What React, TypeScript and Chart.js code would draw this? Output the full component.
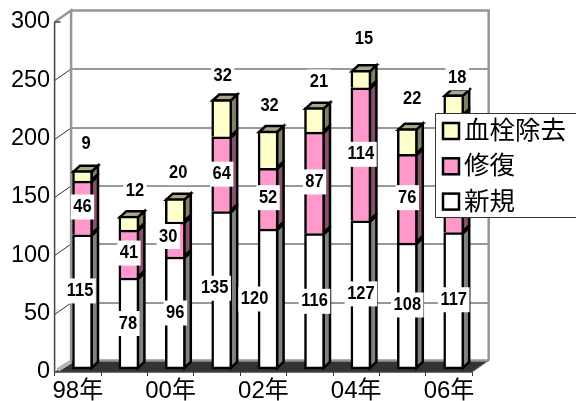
import React, { useEffect, useRef } from "react";
import { Chart, registerables } from "chart.js";

Chart.register(...registerables);

const categories = ["98年", "99年", "00年", "01年", "02年", "03年", "04年", "05年", "06年"];
const newCases = [115, 78, 96, 135, 120, 116, 127, 108, 117];
const repair = [46, 41, 30, 64, 52, 87, 114, 76, 100];
const thrombectomy = [9, 12, 20, 32, 32, 21, 15, 22, 18];
const seriesNames = ["新規", "修復", "血栓除去"];

const FONT = '"Liberation Sans", Arial, "Noto Sans CJK JP", sans-serif';
const wallDepth = { x: 16.5, y: -11.5 };
const barShift = { x: 4.7, y: -3 };
const barDepth = { x: 6.5, y: -6 };
const sideColors = ["#808080", "#84506a", "#808064"];
const topColors = ["#a0a0a0", "#a06a85", "#a8a888"];

// label nudges from the default spot, by series then by bar
const nudges: [number, number][][] = [
  [[-2.5, -11], [-1, 0], [0, 0], [-7, -2], [-13.5, 0], [0, 0], [0, -1], [0, -1], [0, -1]],
  [[0, -1], [0, -1], [-7, -3], [0, 0], [0, -1], [0, -1], [0, 0], [0, -1], [0, 0]],
  [[3.5, -27], [6, -25.5], [3, -26], [1, -23.5], [1.5, -25], [4.5, -25.7], [3, -31], [5, -29.7], [3.5, -17]],
];

const poly = (ctx: CanvasRenderingContext2D, pts: number[][]) => {
  ctx.beginPath();
  pts.forEach(([x, y], i) => (i ? ctx.lineTo(x, y) : ctx.moveTo(x, y)));
  ctx.closePath();
};

const wallsPlugin = {
  id: "walls",
  beforeDatasetsDraw(chart: any) {
    const { ctx, scales } = chart;
    const xs = scales.x;
    const ys = scales.y;
    const L = xs.left;
    const R = xs.right;
    const B = ys.getPixelForValue(0);
    const T = ys.getPixelForValue(300);
    const d = wallDepth;
    ctx.save();
    // floor
    ctx.fillStyle = "#333333";
    poly(ctx, [[L, B], [L + d.x, B + d.y], [R + d.x, B + d.y], [R, B]]);
    ctx.fill();
    // gridlines
    ctx.strokeStyle = "#333333";
    ctx.lineWidth = 1;
    ys.ticks.forEach((t: any) => {
      if (t.value === 0 || t.value === 300) return;
      const y = Math.round(ys.getPixelForValue(t.value)) + 0.5;
      ctx.beginPath();
      ctx.moveTo(L, y);
      ctx.lineTo(L + d.x, y + d.y);
      ctx.lineTo(R + d.x, y + d.y);
      ctx.stroke();
    });
    // light edge of side wall at floor
    ctx.strokeStyle = "#b4b4b4";
    ctx.lineWidth = 4;
    ctx.beginPath();
    ctx.moveTo(L + 3, B - 2);
    ctx.lineTo(L + d.x, B + d.y + 1);
    ctx.stroke();
    // gray wall frame
    ctx.strokeStyle = "#969696";
    ctx.lineWidth = 2.5;
    ctx.beginPath();
    ctx.moveTo(L, T);
    ctx.lineTo(L + d.x, T + d.y);
    ctx.lineTo(L + d.x, B + d.y);
    ctx.moveTo(L + d.x, T + d.y);
    ctx.lineTo(R + d.x, T + d.y);
    ctx.lineTo(R + d.x, B + d.y);
    ctx.moveTo(L + d.x, B + d.y);
    ctx.lineTo(R + d.x, B + d.y);
    ctx.stroke();
    ctx.beginPath();
    ctx.moveTo(R + d.x, B + d.y);
    ctx.lineTo(R, B);
    ctx.strokeStyle = "#777777";
    ctx.lineWidth = 1;
    ctx.stroke();
    // front axis
    ctx.strokeStyle = "#444444";
    ctx.lineWidth = 1.5;
    ctx.beginPath();
    ctx.moveTo(L, T);
    ctx.lineTo(L, B);
    ctx.moveTo(L, T);
    ctx.lineTo(L + 6, T);
    ctx.moveTo(L, B);
    ctx.lineTo(R, B);
    ctx.stroke();
    // bar sides and caps
    ctx.translate(barShift.x, barShift.y);
    ctx.lineJoin = "miter";
    const n = chart.data.datasets.length;
    for (let s = 0; s < n; s++) {
      chart.getDatasetMeta(s).data.forEach((el: any) => {
        const r = el.x + el.width / 2 - 1;
        const l = el.x - el.width / 2 + 1;
        const top = el.y + 1;
        const base = el.base - 1;
        poly(ctx, [[r, top], [r + barDepth.x, top + barDepth.y], [r + barDepth.x, base + barDepth.y], [r, base]]);
        ctx.fillStyle = sideColors[s];
        ctx.fill();
        ctx.strokeStyle = "#000";
        ctx.lineWidth = 2.5;
        ctx.stroke();
        if (s === n - 1) {
          poly(ctx, [[l, top], [l + barDepth.x, top + barDepth.y], [r + barDepth.x, top + barDepth.y], [r, top]]);
          ctx.fillStyle = topColors[s];
          ctx.fill();
          ctx.stroke();
        }
      });
    }
    ctx.restore();
    ctx.save();
    ctx.translate(barShift.x, barShift.y);
  },
  afterDatasetsDraw(chart: any) {
    const { ctx } = chart;
    ctx.restore();
    // value labels
    ctx.save();
    ctx.translate(barShift.x, barShift.y);
    ctx.font = `bold 16.5px ${FONT}`;
    ctx.textAlign = "center";
    ctx.textBaseline = "middle";
    chart.data.datasets.forEach((ds: any, s: number) => {
      chart.getDatasetMeta(s).data.forEach((el: any, i: number) => {
        const [nx, ny] = nudges[s][i];
        const cy = s === 2 ? el.y : (el.y + el.base) / 2;
        const x = el.x + nx;
        const y = cy + ny;
        const text = String(ds.data[i]);
        const w = ctx.measureText(text).width + 5;
        ctx.fillStyle = "#fff";
        ctx.fillRect(x - w / 2, y - 12.5, w, 25);
        ctx.fillStyle = "#000";
        ctx.save();
        ctx.translate(x, y);
        ctx.scale(1, 1.12);
        ctx.fillText(text, 0, 0);
        ctx.restore();
      });
    });
    ctx.restore();
    // legend, listed top series first
    ctx.save();
    ctx.fillStyle = "#fff";
    ctx.fillRect(435, 113, 141, 105);
    ctx.strokeStyle = "#333";
    ctx.lineWidth = 1;
    ctx.beginPath();
    ctx.moveTo(576, 113.5);
    ctx.lineTo(435.5, 113.5);
    ctx.lineTo(435.5, 217.5);
    ctx.lineTo(576, 217.5);
    ctx.stroke();
    const rows = [...chart.data.datasets].reverse();
    rows.forEach((ds: any, i: number) => {
      const cy = 131 + i * 35.3;
      ctx.fillStyle = ds.backgroundColor;
      ctx.fillRect(443, cy - 8, 16, 16);
      ctx.strokeStyle = "#000";
      ctx.lineWidth = 2.5;
      ctx.strokeRect(443, cy - 8, 16, 16);
      ctx.fillStyle = "#000";
      ctx.font = `25.5px ${FONT}`;
      ctx.textAlign = "left";
      ctx.textBaseline = "middle";
      ctx.fillText(ds.label, 464, cy + 1);
    });
    ctx.restore();
  },
};

export default function App() {
  const ref = useRef<HTMLCanvasElement>(null);
  useEffect(() => {
    document.body.style.margin = "0";
    const bar = { barThickness: 20, borderColor: "#000", borderWidth: 2.5, stack: "a", clip: false as const };
    const chart = new Chart(ref.current!, {
      type: "bar",
      data: {
        labels: categories,
        datasets: [
          { ...bar, label: seriesNames[0], data: newCases, backgroundColor: "#FFFFFF", borderSkipped: false },
          { ...bar, label: seriesNames[1], data: repair, backgroundColor: "#FF99CC", borderSkipped: "bottom" },
          { ...bar, label: seriesNames[2], data: thrombectomy, backgroundColor: "#FFFFCC", borderSkipped: "bottom" },
        ],
      },
      options: {
        responsive: false,
        animation: false,
        layout: { padding: { left: 0, right: 103.8, top: 22, bottom: 0 } },
        plugins: { legend: { display: false }, tooltip: { enabled: false }, title: { display: false } },
        scales: {
          x: {
            stacked: true,
            border: { display: false },
            afterFit: (s: any) => { s.height = 29; },
            grid: { drawOnChartArea: false, tickLength: 4, color: "#333", offset: true },
            ticks: {
              autoSkip: false,
              maxRotation: 0,
              padding: 1,
              color: "#000",
              font: { family: FONT, size: 24 },
              callback: (_v: any, i: number) => (i % 2 ? "" : categories[i]),
            },
          },
          y: {
            stacked: true,
            min: 0,
            max: 300,
            border: { display: false },
            afterFit: (s: any) => { s.width = 54.6; },
            grid: { display: false, drawTicks: false, tickLength: 0 },
            ticks: {
              stepSize: 50,
              padding: 4.5,
              color: "#000",
              font: { family: FONT, size: 23.5 },
            },
          },
        },
      },
      plugins: [wallsPlugin],
    } as any);
    return () => chart.destroy();
  }, []);
  return <canvas ref={ref} width={576} height={401} style={{ display: "block" }} />;
}
